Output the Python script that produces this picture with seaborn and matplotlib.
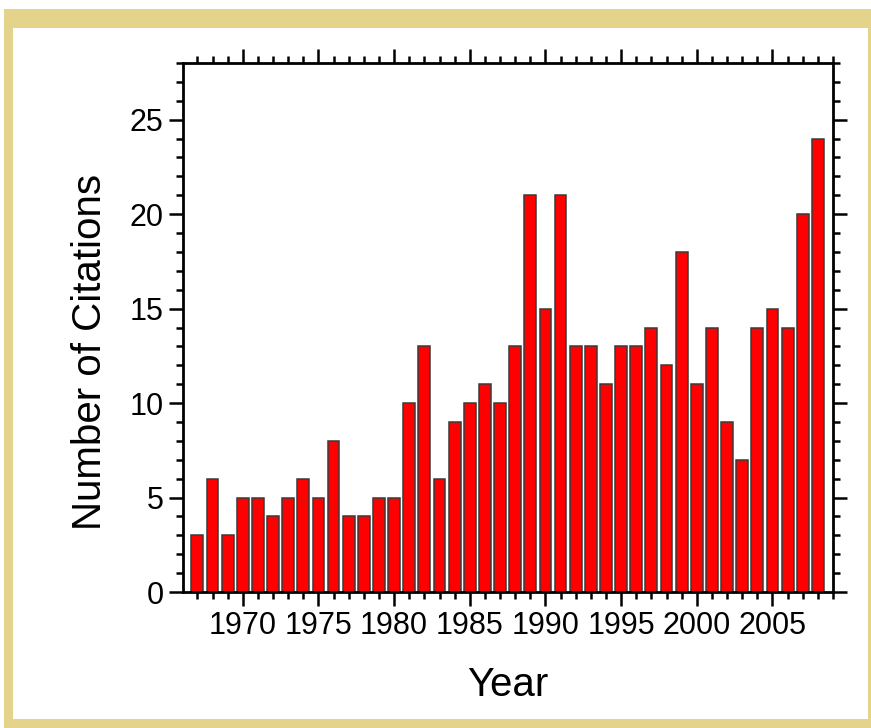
import matplotlib
matplotlib.use('Agg')
import matplotlib.pyplot as plt
from matplotlib.ticker import MultipleLocator
from matplotlib.patches import Rectangle
import seaborn as sns

years = list(range(1967, 2009))
citations = [3, 6, 3, 5, 5, 4, 5, 6, 5, 8,
             4, 4, 5, 5, 10, 13, 6, 9, 10, 11,
             10, 13, 21, 15, 21, 13, 13, 11, 13, 13,
             14, 12, 18, 11, 14, 9, 7, 14, 15, 14,
             20, 24]

sns.set_style('ticks')
plt.rcParams['font.family'] = ['Liberation Sans', 'DejaVu Sans']
plt.rcParams['text.color'] = 'black'
plt.rcParams['axes.labelcolor'] = 'black'
plt.rcParams['xtick.color'] = 'black'
plt.rcParams['ytick.color'] = 'black'

fig = plt.figure(figsize=(8.71, 7.28), dpi=100)
W, H = 871, 728

# tan frame around the picture (behind the axes)
fig.patches.append(Rectangle((4 / W, 0), 1 - 4 / W, 1 - 9 / H, transform=fig.transFigure,
                             facecolor='#e4d38b', edgecolor='none', zorder=-2))
fig.patches.append(Rectangle((13 / W, 9 / H), (868 - 13) / W, (719 - 28) / H,
                             transform=fig.transFigure, facecolor='white',
                             edgecolor='none', zorder=-1))

ax = fig.add_axes([183 / W, 1 - 592 / H, (833 - 183) / W, (592 - 63) / H])
sns.barplot(x=years, y=citations, native_scale=True, color='#ff0000', saturation=1,
            width=0.78, edgecolor='#3a3a3a', linewidth=1.1, ax=ax)

ax.set_xlim(1966.05, 2009.0)
ax.set_ylim(0, 28)
ax.xaxis.set_major_locator(MultipleLocator(5))
ax.xaxis.set_minor_locator(MultipleLocator(1))
ax.yaxis.set_major_locator(MultipleLocator(5))
ax.yaxis.set_minor_locator(MultipleLocator(1))
ax.tick_params(which='both', direction='out', top=True, right=True, width=1.8,
               color='black', labelcolor='black')
ax.tick_params(which='major', length=10, labelsize=22, pad=4)
ax.tick_params(which='minor', length=5)
for s in ax.spines.values():
    s.set_visible(True)
    s.set_linewidth(2.0)
    s.set_color('black')

ax.set_xlabel('Year', fontsize=29)
ax.set_ylabel('Number of Citations', fontsize=29)
ax.xaxis.set_label_coords(0.5, -(685 - 592) / 529, transform=ax.transAxes)
ax.yaxis.set_label_coords(-(183 - 90) / 650, (592 - 352) / 529, transform=ax.transAxes)
ax.xaxis.label.set_va('center')
ax.yaxis.label.set_va('center')

fig.savefig('out.png', dpi=100)
